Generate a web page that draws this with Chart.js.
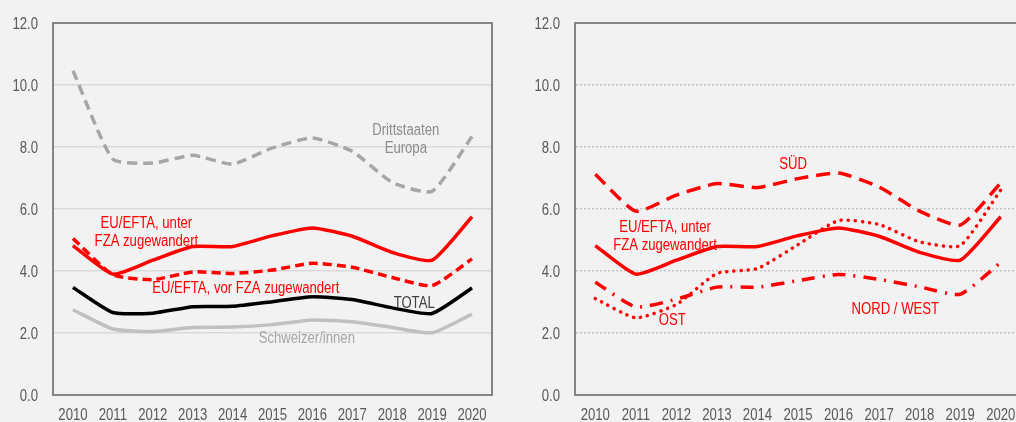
<!DOCTYPE html>
<html>
<head>
<meta charset="utf-8">
<script src="https://cdn.jsdelivr.net/npm/chart.js@4.4.0/dist/chart.umd.min.js"></script>
<style>
  html, body { margin: 0; padding: 0; background: #f2f2f2; overflow: hidden; width: 1016px; height: 422px; }
  #links { position: absolute; left: 0; top: 0; }
  #rechts { position: absolute; left: 508px; top: 0; }
</style>
</head>
<body>
<canvas id="links" width="508" height="422"></canvas>
<canvas id="rechts" width="530" height="422"></canvas>
<script>
// Jahre
let jahre = ["2010", "2011", "2012", "2013", "2014", "2015", "2016", "2017", "2018", "2019", "2020"];

// linke Grafik
let drittstaaten = [10.46, 7.61, 7.48, 7.73, 7.45, 7.97, 8.29, 7.86, 6.86, 6.57, 8.34];
let euUnter = [4.82, 3.90, 4.35, 4.79, 4.79, 5.14, 5.39, 5.12, 4.60, 4.35, 5.75];
let euVor = [5.05, 3.88, 3.72, 3.97, 3.92, 4.03, 4.25, 4.12, 3.79, 3.53, 4.39];
let total = [3.47, 2.66, 2.64, 2.85, 2.86, 3.01, 3.17, 3.08, 2.81, 2.63, 3.45];
let schweizer = [2.75, 2.13, 2.05, 2.18, 2.19, 2.27, 2.42, 2.36, 2.18, 2.01, 2.61];

// rechte Grafik (Grossregionen)
let sued = [7.12, 5.93, 6.45, 6.82, 6.69, 6.98, 7.16, 6.71, 5.93, 5.48, 6.84];
let ost = [3.11, 2.49, 2.92, 3.92, 4.08, 4.85, 5.63, 5.50, 4.94, 4.82, 6.61];
let nordWest = [3.64, 2.84, 3.09, 3.48, 3.48, 3.69, 3.89, 3.73, 3.49, 3.25, 4.28];

let yMin = 0;
let yMax = 12;
let yStep = 2;

const schrift = '"Liberation Sans", Arial, sans-serif';
const rot = "#ff0000";
const grauText = "#595959";

// schmale Schrift nachbilden (Arial Narrow gibt es hier nicht)
function schmal(ctx, t, x, y, align) {
  ctx.save();
  ctx.translate(x, y);
  ctx.scale(0.82, 1);
  ctx.textAlign = align;
  ctx.textBaseline = "alphabetic";
  ctx.fillText(t, 0, 0);
  ctx.restore();
}

// Rahmen um die Zeichenflaeche + Achsenbeschriftung
const rahmen = {
  id: "rahmen",
  afterDraw(chart) {
    const a = chart.chartArea;
    const ctx = chart.ctx;
    ctx.save();
    ctx.strokeStyle = "#858585";
    ctx.lineWidth = 2;
    ctx.strokeRect(a.left, a.top, a.right - a.left, a.bottom - a.top);

    ctx.font = "16px " + schrift;
    ctx.fillStyle = grauText;
    const sx = chart.scales.x;
    const sy = chart.scales.y;
    sy.ticks.forEach(function (tk) {
      schmal(ctx, Number(tk.value).toFixed(1), a.left - 15, sy.getPixelForValue(tk.value) + 5.7, "right");
    });
    sx.ticks.forEach(function (tk, i) {
      schmal(ctx, jahre[i], sx.getPixelForTick(i), a.bottom + 24.5, "center");
    });
    ctx.restore();
  }
};

// Beschriftungen direkt im Diagramm
const beschriftung = {
  id: "beschriftung",
  afterDatasetsDraw(chart, args, opts) {
    const ctx = chart.ctx;
    const sx = chart.scales.x;
    const sy = chart.scales.y;
    ctx.save();
    ctx.font = "16px " + schrift;
    (opts.items || []).forEach(function (it) {
      const px = sx.getPixelForValue(it.x);
      const py = sy.getPixelForValue(it.y);
      ctx.fillStyle = it.farbe;
      const n = it.text.length;
      it.text.forEach(function (t, i) {
        schmal(ctx, t, px, py + (i - (n - 1) / 2) * 18 + 5.7, "center");
      });
    });
    ctx.restore();
  }
};

function optionen(yBreite, rechtsPad, gitter, strich, labels) {
  return {
    responsive: false,
    animation: false,
    layout: { padding: { top: 23, right: rechtsPad, bottom: 0, left: 0 } },
    plugins: {
      legend: { display: false },
      tooltip: { enabled: false },
      beschriftung: { items: labels }
    },
    scales: {
      x: {
        offset: true,
        grid: { display: false, drawTicks: false, offset: true },
        border: { color: "#858585", width: 2 },
        ticks: { color: "rgba(0,0,0,0)", font: { family: schrift, size: 13 }, padding: 8, maxRotation: 0, autoSkip: false },
        afterFit: function (s) { s.height = 27; }
      },
      y: {
        min: yMin,
        max: yMax,
        grid: gitter,
        border: { color: "#858585", width: 2, dash: strich },
        ticks: {
          stepSize: yStep,
          color: "rgba(0,0,0,0)",
          font: { family: schrift, size: 13 },
          padding: 14
        },
        afterFit: function (s) { s.width = yBreite; }
      }
    }
  };
}

function linie(werte, farbe, breite, dash, cap) {
  return {
    data: werte,
    borderColor: farbe,
    borderWidth: breite,
    borderDash: dash || [],
    borderCapStyle: cap || "butt",
    pointRadius: 0,
    tension: 0.18,
    fill: false
  };
}

new Chart(document.getElementById("links"), {
  type: "line",
  data: {
    labels: jahre,
    datasets: [
      linie(schweizer, "#c0c0c0", 3.5),
      linie(total, "#000000", 3.5),
      linie(euVor, rot, 3.5, [9, 5]),
      linie(euUnter, rot, 3.5),
      linie(drittstaaten, "#a6a6a6", 3.5, [10, 6])
    ]
  },
  options: optionen(53, 16, { color: "#d9d9d9", lineWidth: 1.5, drawTicks: false }, [], [
    { text: ["Drittstaaten", "Europa"], x: 8.34, y: 8.29, farbe: "#8c8c8c" },
    { text: ["EU/EFTA, unter", "FZA zugewandert"], x: 1.84, y: 5.29, farbe: rot },
    { text: ["EU/EFTA, vor FZA zugewandert"], x: 4.33, y: 3.47, farbe: rot },
    { text: ["TOTAL"], x: 8.55, y: 2.99, farbe: "#404040" },
    { text: ["Schweizer/innen"], x: 5.86, y: 1.86, farbe: "#a6a6a6" }
  ]),
  plugins: [rahmen, beschriftung]
});

new Chart(document.getElementById("rechts"), {
  type: "line",
  data: {
    labels: jahre,
    datasets: [
      linie(nordWest, rot, 3.5, [13, 8, 2, 8]),
      linie(ost, rot, 3.5, [0.1, 7], "round"),
      linie(euUnter, rot, 3.5),
      linie(sued, rot, 3.5, [14, 8])
    ]
  },
  options: optionen(67, 17, { color: "#c4c4c4", lineWidth: 1.5, drawTicks: false }, [2, 2], [
    { text: ["SÜD"], x: 4.88, y: 7.47, farbe: rot },
    { text: ["EU/EFTA, unter", "FZA zugewandert"], x: 1.72, y: 5.15, farbe: rot },
    { text: ["OST"], x: 1.90, y: 2.45, farbe: rot },
    { text: ["NORD / WEST"], x: 7.40, y: 2.81, farbe: rot }
  ]),
  plugins: [rahmen, beschriftung]
});
</script>
</body>
</html>
